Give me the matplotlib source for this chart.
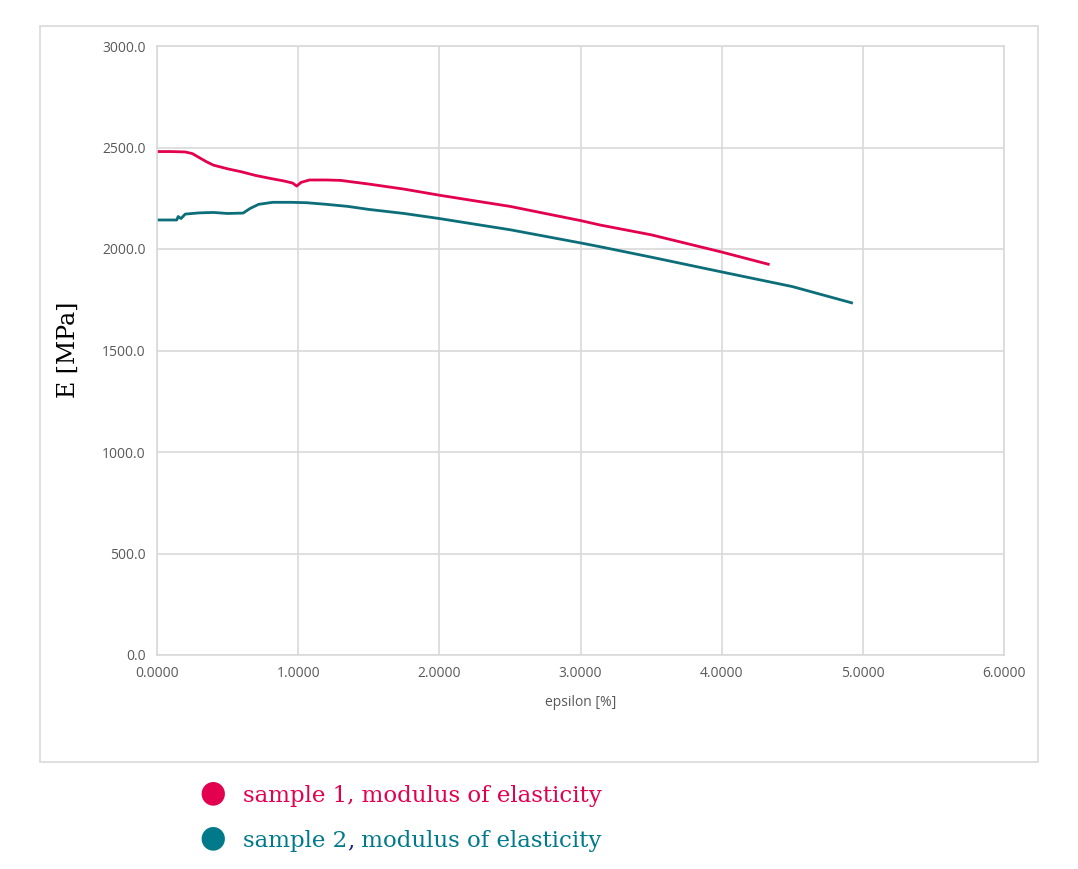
import matplotlib.pyplot as plt
from matplotlib.patches import Rectangle

# values
eps_1 = [0.00, 0.10, 0.20, 0.25, 0.30, 0.35, 0.40, 0.50, 0.60, 0.70, 0.80, 0.90,
         0.96, 0.99, 1.02, 1.08, 1.20, 1.30, 1.50, 1.75, 2.00, 2.29, 2.50,
         3.00, 3.14, 3.50, 4.00, 4.33]
E_1 = [2480, 2480, 2478, 2470, 2450, 2430, 2413, 2395, 2380, 2362, 2348, 2335,
       2325, 2310, 2328, 2340, 2340, 2338, 2320, 2295, 2265, 2233, 2210,
       2140, 2118, 2070, 1985, 1925]

eps_2 = [0.00, 0.14, 0.15, 0.17, 0.20, 0.30, 0.40, 0.50, 0.61, 0.66, 0.72, 0.82,
         0.95, 1.06, 1.20, 1.35, 1.50, 1.75, 2.00, 2.29, 2.50, 3.00, 3.14,
         3.50, 4.00, 4.50, 4.92]
E_2 = [2143, 2143, 2160, 2150, 2172, 2178, 2180, 2175, 2177, 2200, 2220, 2230,
       2230, 2228, 2220, 2210, 2195, 2175, 2150, 2118, 2095, 2030, 2011,
       1960, 1887, 1815, 1735]

x_ticks = [0, 1, 2, 3, 4, 5, 6]
y_ticks = [0, 500, 1000, 1500, 2000, 2500, 3000]

red = '#e2004f'
teal = '#0b6e78'
teal_dot = '#00798a'
grid_c = '#d9d9d9'
label_c = '#595959'

fig = plt.figure(figsize=(10.78, 8.69), dpi=100)
fig.patches.append(Rectangle((40 / 1078, 1 - 762 / 869), 998 / 1078, 736 / 869,
                             transform=fig.transFigure, fill=False,
                             edgecolor=grid_c, linewidth=1.2))

ax = fig.add_axes([157 / 1078, 1 - 655 / 869, 847 / 1078, 609 / 869])
ax.plot(eps_2, E_2, color=teal, linewidth=2)
ax.plot(eps_1, E_1, color=red, linewidth=2)

ax.set_xlim(0, 6)
ax.set_ylim(0, 3000)
ax.set_xticks(x_ticks)
ax.set_yticks(y_ticks)
ax.set_xticklabels([f'{v:.4f}' for v in x_ticks])
ax.set_yticklabels([f'{v:.1f}' for v in y_ticks])
ax.tick_params(length=0, labelsize=10, labelcolor=label_c, pad=8)
for lab in ax.get_xticklabels() + ax.get_yticklabels():
    lab.set_fontfamily('Open Sans')
ax.grid(True, color=grid_c, linewidth=1.2)
ax.set_axisbelow(True)
for s in ax.spines.values():
    s.set_color(grid_c)
    s.set_linewidth(1.2)

ax.set_xlabel('epsilon [%]', fontsize=10, color=label_c, family='Open Sans', labelpad=10)
fig.text(68 / 1078, 1 - 350 / 869, 'E [MPa]', rotation=90, fontsize=17,
         family='DejaVu Serif', va='center', ha='center', color='black')

# legend below the chart
fs = 16.5
fig.text(213 / 1078, 1 - 793 / 869, '\u25cf', fontsize=22, color=red, ha='center', va='center')
fig.text(213 / 1078, 1 - 838 / 869, '\u25cf', fontsize=22, color=teal_dot, ha='center', va='center')
fig.text(243 / 1078, 1 - 796 / 869, 'sample 1, modulus of elasticity', fontsize=fs,
         family='DejaVu Serif', color=red, va='center')

fig.canvas.draw()
r = fig.canvas.get_renderer()
t1 = fig.text(243 / 1078, 1 - 841 / 869, 'sample 2', fontsize=fs,
              family='DejaVu Serif', color=teal_dot, va='center')
x = t1.get_window_extent(r).x1
t2 = fig.text(x / fig.bbox.width, 1 - 841 / 869, ',', fontsize=fs,
              family='DejaVu Serif', color='#1a237e', va='center')
x = t2.get_window_extent(r).x1
fig.text(x / fig.bbox.width, 1 - 841 / 869, ' modulus of elasticity', fontsize=fs,
         family='DejaVu Serif', color=teal_dot, va='center')

fig.savefig('out.png', dpi=100)
